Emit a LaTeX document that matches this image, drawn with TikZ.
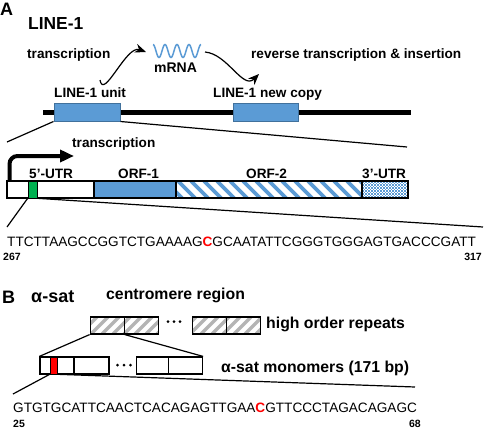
\documentclass[tikz,border=0pt]{standalone}
\usepackage{fontspec}
\setmainfont{Liberation Sans}
\usetikzlibrary{arrows.meta,patterns}
\definecolor{lblue}{HTML}{5B9BD5}
\definecolor{dblue}{HTML}{41719C}
\definecolor{lgreen}{HTML}{00B050}
\definecolor{hgray}{HTML}{B4B4B4}
\definecolor{hred}{HTML}{FF0000}
\begin{document}
\begin{tikzpicture}[x=1pt,y=-1pt,
  txt/.style={inner sep=0pt, anchor=base west, font=\bfseries\fontsize{13.6}{16}\selectfont},
  txtB/.style={txt, font=\bfseries\fontsize{15.8}{19}\selectfont},
  panel/.style={txt, font=\bfseries\fontsize{18}{21}\selectfont},
  seqtxt/.style={inner sep=0pt, anchor=base west, font=\fontsize{13.6}{16}\selectfont},
  num/.style={inner sep=0pt, font=\bfseries\fontsize{10.5}{12}\selectfont},
  seg/.style={draw=black, line width=1.2pt, minimum height=17pt, inner sep=0pt, anchor=center},
  unitbox/.style={draw=dblue, fill=lblue, line width=1pt, minimum height=18pt, inner sep=0pt},
  conn/.style={draw=black, line width=1.2pt},
  curvarrow/.style={conn, -{Stealth[length=11pt,width=9pt]}},
]
\useasboundingbox (0,0) rectangle (484,428);
\fill[white] (0,0) rectangle (484,428);

% ---------- Panel A ----------
\node[panel] (lA) at (0,16) {A};
\node[txt, font=\bfseries\fontsize{17.4}{20}\selectfont] (tL1) at (28,30) {LINE-1};
\node[txt] (tTr) at (27,59) {transcription};
\draw[lblue, line width=1.5pt] plot[domain=0:48, samples=97, smooth] ({\x+153}, {51-6.5*cos(\x*30)});
\node[txt, font=\bfseries\fontsize{14}{16}\selectfont, anchor=base] (tmRNA) at (175.5,73) {mRNA};
\node[txt] (tRev) at (251,59) {reverse transcription \& insertion};
\node[txt] (tU) at (54,97.5) {LINE-1 unit};
\node[txt] (tN) at (213,97.5) {LINE-1 new copy};
\coordinate (a1s) at (100,80);
\coordinate (a1e) at (146,52);
\draw[curvarrow] (a1s) to[out=-80,in=160] (a1e);
\coordinate (a2s) at (205,52);
\coordinate (a2e) at (259,74);
\draw[curvarrow] (a2s) to[out=-5,in=225] (a2e);

\coordinate (chl) at (43,112.5);
\coordinate (chr) at (411,112.5);
\draw[line width=4.5pt] (chl) -- (chr);
\node[unitbox, minimum width=66pt] (u1) at (87,112) {};
\node[unitbox, minimum width=65pt] (u2) at (265.5,112) {};
\coordinate (zl) at (7,142);
\coordinate (zr) at (407,147);
\draw[conn] (u1.south west) -- (zl);
\draw[conn] (u1.south east) -- (zr);

\node[txt] (tTr2) at (72,147) {transcription};
\coordinate (tss) at (9.5,181);
\coordinate (tse) at (74,156);
\draw[line width=4pt, rounded corners=8pt, -{Triangle[length=14pt,width=12pt]}] (tss) |- (tse);

\node[txt] (l5) at (29,178) {5’-UTR};
\node[txt] (lo1) at (118,178) {ORF-1};
\node[txt] (lo2) at (246,178) {ORF-2};
\node[txt] (l3) at (362,178) {3’-UTR};

\begin{scope}
\clip (176,181) rectangle (362,198);
\foreach \k in {-1,...,15} \draw[lblue, line width=3.6pt] ({178+13*\k},181) -- ++(17,17);
\end{scope}
\begin{scope}
\clip (362,181) rectangle (408,198);
\foreach \j in {0,...,11} {
  \pgfmathsetmacro{\off}{mod(\j,2)*1.5}
  \foreach \i in {0,...,15}
    \fill[lblue] ({362+3*\i+\off},{181+1.5*\j}) rectangle ++(1.5,1.5);
}
\end{scope}
\node[seg, fill=white, minimum width=87pt] (utr5) at (50.5,189.5) {};
\node[seg, fill=lgreen, line width=0.6pt, minimum width=9pt] (grn) at (32.5,189.5) {};
\node[seg, fill=lblue, minimum width=82pt] (orf1) at (135,189.5) {};
\node[seg, minimum width=186pt] (orf2) at (269,189.5) {};
\node[seg, minimum width=46pt] (utr3) at (385,189.5) {};

\coordinate (sl) at (7,227);
\coordinate (sr) at (483,227);
\draw[conn] (grn.south west) -- (sl);
\draw[conn] (grn.south east) -- (sr);

\node[seqtxt] (seqA) at (7,246) {TTCTTAAGCCGGTCTGAAAAG{\bfseries\color{red}C}GCAATATTCGGGTGGGAGTGACCCGATT};
\node[num, anchor=base west] (n267) at (3,260) {267};
\node[num, anchor=base east] (n317) at (482,260) {317};

% ---------- Panel B ----------
\node[panel] (lB) at (2,303) {B};
\node[panel] (tas) at (31,302) {α-sat};
\node[txtB] (tcr) at (106,299.5) {centromere region};

\begin{scope}
\clip (90,317) rectangle (158.3,334) (192.7,317) rectangle (260.7,334);
\foreach \k in {-2,...,22} \draw[hgray, line width=3.5pt] ({80+11*\k},334) -- ++(17,-17);
\end{scope}
\node[seg, minimum width=34pt] (h1) at (107.2,325.5) {};
\node[seg, minimum width=34pt] (h2) at (141.3,325.5) {};
\node[seg, minimum width=34pt] (h3) at (209.7,325.5) {};
\node[seg, minimum width=34pt] (h4) at (243.7,325.5) {};
\foreach \x in {168,174,180} \fill (\x,321.5) circle (1.5pt);
\node[txtB] (thor) at (266,328) {high order repeats};

\node[seg, fill=white, minimum width=34pt] (m1) at (57,365.5) {};
\node[seg, fill=hred, line width=0.6pt, minimum width=7pt] (rd) at (53.5,365.5) {};
\node[seg, minimum width=35pt] (m2) at (91.5,365.5) {};
\node[seg, minimum width=32pt] (m3) at (152.5,365.5) {};
\node[seg, minimum width=34pt] (m4) at (185.5,365.5) {};
\foreach \x in {117.5,124,130.5} \fill (\x,365) circle (1.5pt);
\node[txtB] (tmono) at (221,372) {α-sat monomers (171 bp)};

\draw[conn] (h1.south west) -- (m1.north west);
\draw[conn] (h1.south east) -- (m4.north east);
\coordinate (bl) at (13,394);
\coordinate (br) at (415,387);
\draw[conn] (rd.south west) -- (bl);
\draw[conn] (rd.south east) -- (br);

\node[seqtxt] (seqB) at (13,412) {GTGTGCATTCAACTCACAGAGTTGAA{\bfseries\color{red}C}GTTCCCTAGACAGAGC};
\node[num, anchor=base west] (n25) at (13,427) {25};
\node[num, anchor=base east] (n68) at (421,427) {68};
\end{tikzpicture}
\end{document}
